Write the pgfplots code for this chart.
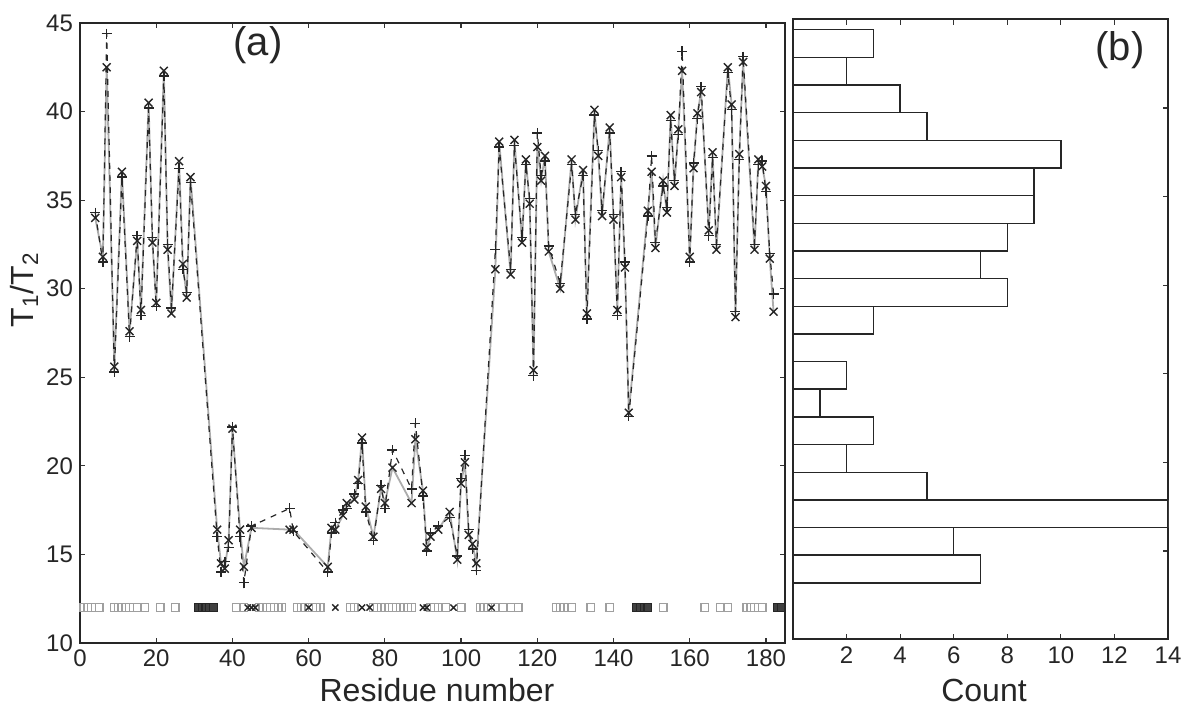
\documentclass[border=0pt]{standalone}
\usepackage{pgfplots}
\pgfplotsset{compat=1.18}
\usepackage{fontspec}
\setmainfont{Liberation Sans}
\begin{document}
\begin{tikzpicture}
\pgfplotsset{
  common/.style={
    scale only axis,
    axis line style={line width=1pt, black!85},
    tick style={black!80, line width=0.6pt},
    major tick length=2.6pt,
    tick align=inside,
    /pgf/number format/assume math mode=true,
    ticklabel style={font=\fontsize{12}{14}\selectfont, black!85},
    clip=true,
  }
}
% ---------------- panel (a)
\begin{axis}[common,
  at={(0pt,0pt)}, anchor=south west,
  width=352.5pt, height=310pt,
  xmin=0, xmax=185, ymin=10, ymax=45,
  xtick={0,20,...,180}, ytick={10,15,...,45},
]
\addplot[gray!65, line width=0.9pt, mark=x, mark size=2.8pt,
  mark options={solid, black!85, line width=0.7pt}] coordinates {
(4,34.0)(6,31.8)(7,42.5)(9,25.6)(11,36.6)(13,27.6)(15,32.7)(16,28.8)(18,40.5)(19,32.6)(20,29.2)(22,42.3)(23,32.2)(24,28.6)(26,37.2)(27,31.4)(28,29.5)(29,36.3)(36,16.4)(37,14.5)(38,14.2)(39,15.8)(40,22.1)(42,16.4)(43,14.3)(45,16.5)(55,16.4)(56,16.4)(65,14.3)(66,16.5)(67,16.4)(69,17.2)(70,17.9)(72,18.1)(73,19.2)(74,21.6)(75,17.7)(77,16.0)(79,18.7)(80,17.9)(82,19.9)(87,17.9)(88,21.5)(90,18.6)(91,15.4)(92,16.0)(94,16.4)(97,17.4)(99,14.7)(100,19.0)(101,20.2)(102,16.1)(103,15.6)(104,14.5)(109,31.1)(110,38.3)(113,30.8)(114,38.4)(116,32.6)(117,37.3)(118,34.8)(119,25.4)(120,38.0)(121,36.1)(122,37.5)(123,32.1)(126,30.0)(129,37.3)(130,33.9)(132,36.7)(133,28.6)(135,40.1)(136,37.5)(137,34.1)(139,39.1)(140,33.9)(141,28.8)(142,36.3)(143,31.2)(144,23.0)(149,34.4)(150,36.6)(151,32.3)(153,36.1)(154,34.3)(155,39.8)(156,35.8)(157,39.0)(158,42.3)(160,31.8)(161,36.8)(162,39.9)(163,41.1)(165,33.3)(166,37.7)(167,32.2)(170,42.5)(171,40.4)(172,28.4)(173,37.6)(174,42.8)(177,32.2)(178,37.3)(179,36.9)(180,35.8)(181,31.7)(182,28.7)
};
\addplot[black!85, dashed, line width=0.6pt, mark=+, mark size=2.5pt,
  mark options={solid, black!85, line width=0.7pt}] coordinates {
(4,34.3)(6,31.5)(7,44.4)(9,25.3)(11,36.3)(13,27.3)(15,33.0)(16,28.5)(18,40.2)(19,32.9)(20,29.0)(22,42.0)(23,32.5)(24,28.9)(26,36.8)(27,31.1)(28,29.8)(29,36.0)(36,16.0)(37,14.0)(38,14.6)(39,15.4)(40,22.2)(42,16.0)(43,13.4)(45,16.6)(55,17.6)(56,16.3)(65,14.0)(66,16.2)(67,16.8)(69,17.5)(70,17.6)(72,18.4)(73,19.0)(74,21.3)(75,17.4)(77,15.8)(79,18.9)(80,17.6)(82,20.9)(87,18.7)(88,22.4)(90,18.3)(91,15.2)(92,16.2)(94,16.6)(97,17.1)(99,14.9)(100,19.3)(101,20.6)(102,16.4)(103,15.3)(104,14.1)(109,32.2)(110,38.0)(113,31.1)(114,38.1)(116,32.9)(117,37.0)(118,35.1)(119,25.1)(120,38.8)(121,36.4)(122,37.2)(123,32.4)(126,30.3)(129,37.0)(130,34.2)(132,36.4)(133,28.3)(135,39.8)(136,37.8)(137,34.4)(139,38.8)(140,34.2)(141,28.5)(142,36.6)(143,31.5)(144,22.8)(149,34.1)(150,37.5)(151,32.6)(153,35.8)(154,34.6)(155,39.5)(156,36.1)(157,38.7)(158,43.4)(160,31.5)(161,37.1)(162,39.6)(163,41.4)(165,33.0)(166,37.4)(167,32.5)(170,42.2)(171,40.1)(172,28.7)(173,37.3)(174,43.1)(177,32.5)(178,37.0)(179,37.2)(180,35.5)(181,32.0)(182,29.7)
};
% row of squares at y = 12
\addplot[only marks, mark=square, mark size=1.9pt,
  mark options={gray!75, line width=0.7pt}] coordinates {
(1,12)(2,12)(3,12)(5,12)(9,12)(10,12)(11,12)(12,12)(13,12)(15,12)(17,12)(21,12)(25,12)
(41,12)(43,12)(47,12)(48,12)(49,12)(50,12)(51,12)(52,12)(53,12)
(57,12)(58,12)(59,12)(61,12)(62,12)(63,12)(71,12)(72,12)
(77,12)(78,12)(79,12)(81,12)(82,12)(83,12)(84,12)(85,12)(86,12)(87,12)
(92,12)(93,12)(94,12)(96,12)(100,12)(105,12)(106,12)(107,12)(109,12)(111,12)(113,12)(115,12)
(125,12)(126,12)(127,12)(129,12)(134,12)(139,12)(153,12)(164,12)(168,12)(170,12)
(175,12)(176,12)(177,12)(179,12)
};
\addplot[only marks, mark=square*, mark size=1.9pt,
  mark options={draw=black!85, fill=black!75, line width=0.6pt}] coordinates {
(31,12)(32,12)(33,12)(34,12)(35,12)(146,12)(147,12)(148,12)(149,12)(183,12)(184,12)
};
\addplot[only marks, mark=x, mark size=2.2pt,
  mark options={black!85, line width=0.7pt}] coordinates {
(44,12)(45,12)(46,12)(60,12)(67,12)(74,12)(76,12)(90,12)(91,12)(98,12)(108,12)
};
\end{axis}
% ---------------- panel (b)
\begin{axis}[common,
  at={(356.5pt,1.75pt)}, anchor=south west,
  width=187.5pt, height=310pt,
  xmin=0, xmax=14, ymin=10, ymax=45,
  xtick={2,4,...,14}, ytick={15,20,...,40}, yticklabels={},
]
\addplot[xbar interval, draw=black!85, fill=white, line width=0.7pt] coordinates {
(7,13.20)(6,14.76)(14,16.32)(5,17.88)(2,19.44)(3,21.01)(1,22.57)(2,24.13)(0,25.69)(3,27.25)
(8,28.81)(7,30.37)(8,31.93)(9,33.49)(9,35.05)(10,36.62)(5,38.18)(4,39.74)(2,41.30)(3,42.86)(3,44.42)
};
\end{axis}
% labels
\node[font=\fontsize{16}{18}\selectfont, black!85] at (178.5pt,-23.5pt) {Residue number};
\node[font=\fontsize{16}{18}\selectfont, black!85] at (452pt,-23.5pt) {Count};
\node[font=\fontsize{16}{18}\selectfont, black!85, rotate=90] at (-28pt,176.5pt) {T\textsubscript{1}/T\textsubscript{2}};
\node[font=\fontsize{20}{24}\selectfont, black!85] at (89pt,299pt) {(a)};
\node[font=\fontsize{20}{24}\selectfont, black!85] at (520pt,296.5pt) {(b)};
\pgfresetboundingbox
\path[use as bounding box] (-40pt,-33.5pt) rectangle (550.5pt,321.5pt);
\end{tikzpicture}
\end{document}
